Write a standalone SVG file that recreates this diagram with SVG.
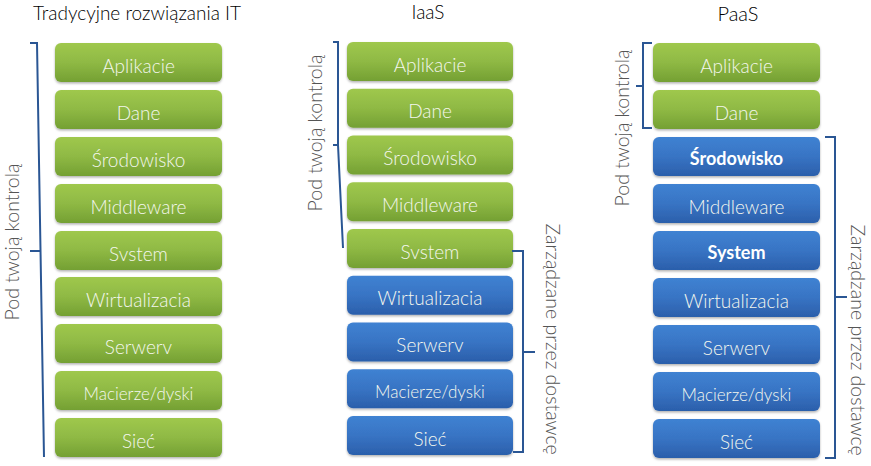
<svg xmlns="http://www.w3.org/2000/svg" width="871" height="466" viewBox="0 0 871 466">
<defs>
<linearGradient id="gGreen" x1="0" y1="0" x2="0" y2="1">
<stop offset="0" stop-color="#9fc84d"/>
<stop offset="0.5" stop-color="#8fb944"/>
<stop offset="1" stop-color="#74a033"/>
</linearGradient>
<linearGradient id="gBlue" x1="0" y1="0" x2="0" y2="1">
<stop offset="0" stop-color="#3f82d2"/>
<stop offset="0.5" stop-color="#3874c4"/>
<stop offset="1" stop-color="#2b5fab"/>
</linearGradient>
<filter id="sh" x="-10%" y="-20%" width="120%" height="150%">
<feDropShadow dx="0" dy="1.5" stdDeviation="1.2" flood-color="#000" flood-opacity="0.3"/>
</filter>
</defs>
<style>
.green{fill:url(#gGreen);filter:url(#sh)}
.blue{fill:url(#gBlue);filter:url(#sh)}
.lbl{font-family:Lato,"Open Sans",sans-serif;font-weight:300;font-size:19px;fill:#f4f7ee;text-anchor:middle}
.lbs{font-size:17px}
.bold{font-weight:bold;fill:#ffffff;font-size:18px}
.title{font-family:Lato,"Open Sans",sans-serif;font-weight:300;font-size:19px;fill:#000;text-anchor:middle}
.vert{font-family:Lato,"Open Sans",sans-serif;font-weight:300;font-size:19.5px;fill:#555;text-anchor:middle}
.br{fill:none;stroke:#2a5694;stroke-width:2}
</style>

<text class="title" x="137" y="20">Tradycyjne rozwiązania IT</text>
<text class="title" x="428" y="19">IaaS</text>
<text class="title" x="738" y="21" style="font-size:20px">PaaS</text>

<!-- Column 1 -->
<g id="c1-aplikacje"><rect class="green" x="55" y="43" width="167" height="39" rx="6"/><text class="lbl" x="138.5" y="72.5">Aplikacie</text></g>
<g id="c1-dane"><rect class="green" x="55" y="90" width="167" height="39" rx="6"/><text class="lbl" x="138.5" y="119.5">Dane</text></g>
<g id="c1-srodowisko"><rect class="green" x="55" y="137" width="167" height="39" rx="6"/><text class="lbl" x="138.5" y="166.5">Środowisko</text></g>
<g id="c1-middleware"><rect class="green" x="55" y="184" width="167" height="39" rx="6"/><text class="lbl" x="138.5" y="213.5">Middleware</text></g>
<g id="c1-system"><rect class="green" x="55" y="231" width="167" height="39" rx="6"/><text class="lbl" x="138.5" y="260.5">Svstem</text></g>
<g id="c1-wirt"><rect class="green" x="55" y="277" width="167" height="39" rx="6"/><text class="lbl" x="138.5" y="306.5">Wirtualizacia</text></g>
<g id="c1-serwery"><rect class="green" x="55" y="324" width="167" height="39" rx="6"/><text class="lbl" x="138.5" y="353.5">Serwerv</text></g>
<g id="c1-macierze"><rect class="green" x="55" y="371" width="167" height="39" rx="6"/><text class="lbl lbs" x="138.5" y="399.5">Macierze/dyski</text></g>
<g id="c1-siec"><rect class="green" x="55" y="418" width="167" height="39" rx="6"/><text class="lbl" x="138.5" y="447.5">Sieć</text></g>

<!-- Column 2 -->
<g id="c2-aplikacje"><rect class="green" x="347" y="42" width="166" height="39" rx="6"/><text class="lbl" x="430" y="71.5">Aplikacie</text></g>
<g id="c2-dane"><rect class="green" x="347" y="88.75" width="166" height="39" rx="6"/><text class="lbl" x="430" y="118.25">Dane</text></g>
<g id="c2-srodowisko"><rect class="green" x="347" y="135.5" width="166" height="39" rx="6"/><text class="lbl" x="430" y="165">Środowisko</text></g>
<g id="c2-middleware"><rect class="green" x="347" y="182.25" width="166" height="39" rx="6"/><text class="lbl" x="430" y="211.75">Middleware</text></g>
<g id="c2-system"><rect class="green" x="347" y="229" width="166" height="39" rx="6"/><text class="lbl" x="430" y="258.5">Svstem</text></g>
<g id="c2-wirt"><rect class="blue" x="347" y="275.75" width="166" height="39" rx="6"/><text class="lbl" x="430" y="305.25">Wirtualizacia</text></g>
<g id="c2-serwery"><rect class="blue" x="347" y="322.5" width="166" height="39" rx="6"/><text class="lbl" x="430" y="352">Serwerv</text></g>
<g id="c2-macierze"><rect class="blue" x="347" y="369.25" width="166" height="39" rx="6"/><text class="lbl lbs" x="430" y="397.75">Macierze/dyski</text></g>
<g id="c2-siec"><rect class="blue" x="347" y="416" width="166" height="39" rx="6"/><text class="lbl" x="430" y="445.5">Sieć</text></g>

<!-- Column 3 -->
<g id="c3-aplikacje"><rect class="green" x="653" y="43" width="167" height="39" rx="6"/><text class="lbl" x="736.5" y="72.5">Aplikacie</text></g>
<g id="c3-dane"><rect class="green" x="653" y="90" width="167" height="39" rx="6"/><text class="lbl" x="736.5" y="119.5">Dane</text></g>
<g id="c3-srodowisko"><rect class="blue" x="653" y="137" width="167" height="39" rx="6"/><text class="lbl bold" x="736.5" y="165">Środowisko</text></g>
<g id="c3-middleware"><rect class="blue" x="653" y="184" width="167" height="39" rx="6"/><text class="lbl" x="736.5" y="213.5">Middleware</text></g>
<g id="c3-system"><rect class="blue" x="653" y="231" width="167" height="39" rx="6"/><text class="lbl bold" x="736.5" y="259">System</text></g>
<g id="c3-wirt"><rect class="blue" x="653" y="278" width="167" height="39" rx="6"/><text class="lbl" x="736.5" y="307.5">Wirtualizacia</text></g>
<g id="c3-serwery"><rect class="blue" x="653" y="325" width="167" height="39" rx="6"/><text class="lbl" x="736.5" y="354.5">Serwerv</text></g>
<g id="c3-macierze"><rect class="blue" x="653" y="372" width="167" height="39" rx="6"/><text class="lbl lbs" x="736.5" y="400.5">Macierze/dyski</text></g>
<g id="c3-siec"><rect class="blue" x="653" y="419" width="167" height="39" rx="6"/><text class="lbl" x="736.5" y="448.5">Sieć</text></g>

<!-- Brackets -->
<g id="connectors">
<path class="br" d="M30,43 H37 L44,457 M30,251 H40.5"/>
<path class="br" d="M333,42 H338 V145 L343,248 M333,145 H338"/>
<path class="br" d="M512,251 H523 V452 H513 M523,352 H535"/>
<path class="br" d="M652,43 H643 V128 H652 M636,86 H643"/>
<path class="br" d="M825,137 H835 V458 H825 M835,297 H847"/>
</g>

<!-- Vertical labels -->
<text class="vert" transform="translate(19,242) rotate(-90)">Pod twoją kontrolą</text>
<text class="vert" transform="translate(322,133) rotate(-90)">Pod twoją kontrolą</text>
<text class="vert" transform="translate(629,128) rotate(-90)">Pod twoją kontrolą</text>
<text class="vert" transform="translate(546,339) rotate(90)">Zarządzane przez dostawcę</text>
<text class="vert" transform="translate(851,340) rotate(90)">Zarządzane przez dostawcę</text>
</svg>
